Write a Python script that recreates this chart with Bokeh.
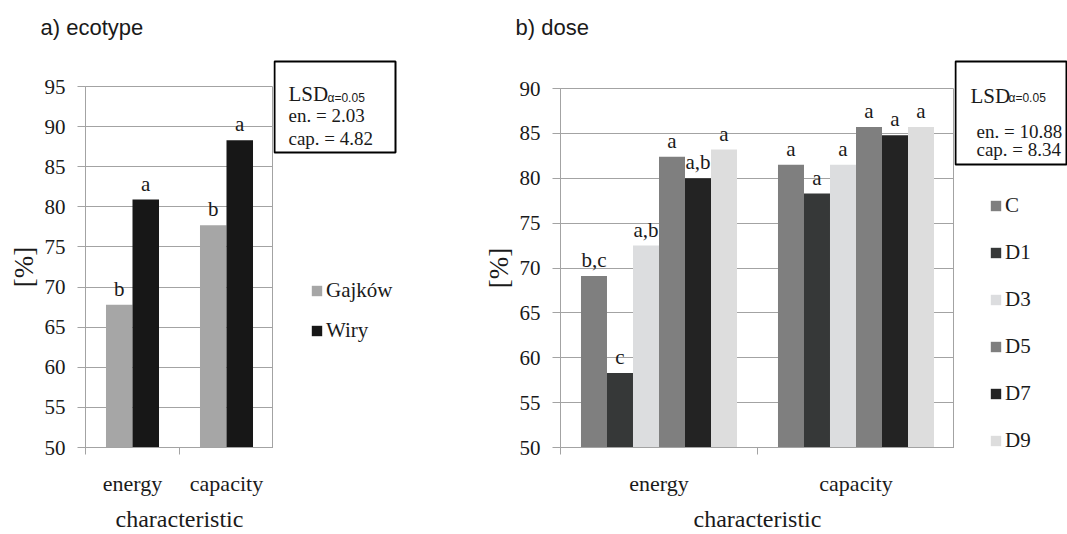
from bokeh.plotting import figure
from bokeh.models import (ColumnDataSource, Range1d, FixedTicker, Label, BoxAnnotation)
from bokeh.transform import dodge
from bokeh.layouts import row, column
from bokeh.embed import file_html
from bokeh.resources import INLINE
from bokeh.core.properties import value

# ---------------- data ----------------
characteristics = ["energy", "capacity"]

# a) ecotype
ecotypes = ["Gajków", "Wiry"]
gajkow_vals = [67.8, 77.7]
wiry_vals = [80.9, 88.3]
gajkow_letters = ["b", "b"]
wiry_letters = ["a", "a"]
lsd_a_lines = ["en. = 2.03", "cap. = 4.82"]
y_ticks_a = [50, 55, 60, 65, 70, 75, 80, 85, 90, 95]

# b) dose
doses = ["C", "D1", "D3", "D5", "D7", "D9"]
dose_C = [69.1, 81.5]
dose_D1 = [58.3, 78.3]
dose_D3 = [72.5, 81.5]
dose_D5 = [82.4, 85.7]
dose_D7 = [80.0, 84.8]
dose_D9 = [83.2, 85.7]
letters_C = ["b,c", "a"]
letters_D1 = ["c", "a"]
letters_D3 = ["a,b", "a"]
letters_D5 = ["a", "a"]
letters_D7 = ["a,b", "a"]
letters_D9 = ["a", "a"]
lsd_b_lines = ["en. = 10.88", "cap. = 8.34"]
y_ticks_b = [50, 55, 60, 65, 70, 75, 80, 85, 90]

colors_a = ["#a6a6a6", "#171717"]
colors_b = ["#7f7f7f", "#363838", "#dcdddf", "#7f7f7f", "#232323", "#dddddd"]

# ---------------- style ----------------
SERIF = "Liberation Serif"
SANS = "Liberation Sans"
TXT = "#1a1a1a"
GRID = "#a3a3a3"
H = 534
TITLE_H = 50
FRAME_BOTTOM = 456
NAN = float("nan")


def blank_figure(x0, x1, y0, y1):
    """Axis-less figure whose ranges are the canvas pixels it covers."""
    f = figure(width=x1 - x0, height=y1 - y0, x_range=Range1d(x0, x1), y_range=Range1d(y1, y0),
               output_backend="svg", toolbar_location=None, frame_align=False,
               min_border_left=0, min_border_right=0, min_border_top=0, min_border_bottom=0,
               x_axis_location=None, y_axis_location=None,
               background_fill_color="white", border_fill_color="white",
               outline_line_color=None)
    f.xgrid.visible = False
    f.ygrid.visible = False
    return f


def make_title(text, x0, x1, tx, ty):
    t = blank_figure(x0, x1, 0, TITLE_H)
    t.add_layout(Label(x=tx, y=ty, text=text, text_font=SANS, text_font_size="22px",
                       text_color=TXT, text_align="left", text_baseline="middle"))
    return t


def make_chart(names, vals, letters, colors, bar_w, ymin, ymax, yticks, fl, fw, top):
    ncat = len(characteristics)
    centers = [i + 0.5 for i in range(ncat)]          # category slots on the x scale
    edges = list(range(ncat + 1))
    p = figure(width=fl + fw, height=H - TITLE_H, x_range=Range1d(0, ncat),
               y_range=Range1d(ymin, ymax),
               output_backend="svg", toolbar_location=None, frame_align=False,
               min_border_left=fl, min_border_right=0,
               min_border_top=top - TITLE_H, min_border_bottom=H - FRAME_BOTTOM,
               background_fill_color="white", border_fill_color="white",
               outline_line_color=GRID)

    p.xgrid.visible = False
    p.ygrid.grid_line_color = GRID
    p.ygrid.ticker = FixedTicker(ticks=yticks)

    ya = p.yaxis[0]
    ya.ticker = FixedTicker(ticks=yticks)
    ya.axis_line_color = GRID
    ya.major_tick_line_color = GRID
    ya.major_tick_out = 8
    ya.major_tick_in = 0
    ya.minor_tick_line_color = None
    ya.major_label_standoff = 12
    ya.major_label_text_font = SERIF
    ya.major_label_text_font_size = "21px"
    ya.major_label_text_color = TXT
    ya.axis_label = "[%]"
    ya.axis_label_text_font = SERIF
    ya.axis_label_text_font_size = "27px"
    ya.axis_label_text_font_style = "normal"
    ya.axis_label_text_color = TXT
    ya.axis_label_standoff = 3

    xa = p.xaxis[0]
    xa.ticker = FixedTicker(ticks=centers, minor_ticks=edges)
    xa.major_label_overrides = {c: name for c, name in zip(centers, characteristics)}
    xa.axis_line_color = GRID
    xa.major_tick_line_color = None
    xa.major_tick_out = 0
    xa.major_tick_in = 0
    xa.minor_tick_line_color = GRID
    xa.minor_tick_out = 7
    xa.minor_tick_in = 0
    xa.major_label_standoff = 16
    xa.major_label_text_font = SERIF
    xa.major_label_text_font_size = "22px"
    xa.major_label_text_color = TXT
    xa.axis_label = "characteristic"
    xa.axis_label_text_font = SERIF
    xa.axis_label_text_font_size = "24px"
    xa.axis_label_text_font_style = "normal"
    xa.axis_label_text_color = TXT
    xa.axis_label_standoff = 7

    data = {"x": centers}
    for i, (v, l) in enumerate(zip(vals, letters)):
        data[f"s{i}"] = v
        data[f"l{i}"] = l
    src = ColumnDataSource(data)
    n = len(names)
    for i, c in enumerate(colors):
        off = (i - (n - 1) / 2) * bar_w
        p.vbar(x=dodge("x", off), top=f"s{i}", bottom=ymin, width=bar_w,
               fill_color=c, line_color=None, source=src)
    for i in range(n):
        off = (i - (n - 1) / 2) * bar_w
        p.text(x=dodge("x", off), y=f"s{i}", text=f"l{i}", source=src,
               text_font=value(SERIF), text_font_size="21px", text_color=TXT,
               text_align="center", text_baseline="alphabetic", y_offset=-16)
    return p


def make_side(x0, x1, names, colors, legend_xy, legend_spacing, box, lsd_lines, lsd_pos):
    """Side panel with the legend and the LSD box."""
    s = blank_figure(x0, x1, 0, H)
    # legend entries (no visible mark of their own: NaN position)
    for name, c in zip(names, colors):
        s.vbar(x=[NAN], top=[NAN], width=1, fill_color=c, line_color=None, legend_label=name)
    leg = s.legend[0]
    leg.location = legend_xy
    leg.padding = 0
    leg.margin = 0
    leg.spacing = legend_spacing
    leg.label_height = 25
    leg.glyph_height = 13
    leg.glyph_width = 13
    leg.label_standoff = 3
    leg.border_line_color = None
    leg.background_fill_alpha = 0
    leg.label_text_font = SERIF
    leg.label_text_font_size = "21px"
    leg.label_text_color = TXT

    bl, br, bt, bb = box
    s.add_layout(BoxAnnotation(left=bl, right=br, top=bt, bottom=bb,
                               fill_color="white", fill_alpha=1.0,
                               line_color="#000000", line_alpha=1.0, line_width=2))
    (lx, ly), (subx, suby), lines_pos = lsd_pos
    s.add_layout(Label(x=lx, y=ly, text="LSD", text_font=SERIF, text_font_size="21px",
                       text_color=TXT, text_align="left", text_baseline="alphabetic"))
    s.add_layout(Label(x=subx, y=suby, text="α=0.05", text_font=SANS, text_font_size="12px",
                       text_color=TXT, text_align="left", text_baseline="alphabetic"))
    for txt, (tx, ty) in zip(lsd_lines, lines_pos):
        s.add_layout(Label(x=tx, y=ty, text=txt, text_font=SERIF, text_font_size="19px",
                           text_color=TXT, text_align="left", text_baseline="alphabetic"))
    return s


ta = make_title("a) ecotype", 0, 273, 40, 27)
pa = make_chart(ecotypes, [gajkow_vals, wiry_vals], [gajkow_letters, wiry_letters],
                colors_a, 0.282, 50, 95, y_ticks_a, fl=85, fw=188, top=86)
sa = make_side(273, 480, ecotypes, colors_a, legend_xy=(37, 191), legend_spacing=15,
               box=(274, 395, 61, 152), lsd_lines=lsd_a_lines,
               lsd_pos=((288, 93), (327, 97), [(288, 115), (288, 138)]))

tb = make_title("b) dose", 480, 954, 515, 27)
pb = make_chart(doses, [dose_C, dose_D1, dose_D3, dose_D5, dose_D7, dose_D9],
                [letters_C, letters_D1, letters_D3, letters_D5, letters_D7, letters_D9],
                colors_b, 0.132, 50, 90, y_ticks_b, fl=76, fw=398, top=88)
sb = make_side(954, 1067, doses, colors_b, legend_xy=(35, 81), legend_spacing=22,
               box=(955, 1066, 61, 164), lsd_lines=lsd_b_lines,
               lsd_pos=((970, 95), (1008, 97), [(976, 131), (976, 149)]))

layout = row(column(ta, pa), sa, column(tb, pb), sb)
open("out.html", "w").write(file_html(layout, INLINE))
